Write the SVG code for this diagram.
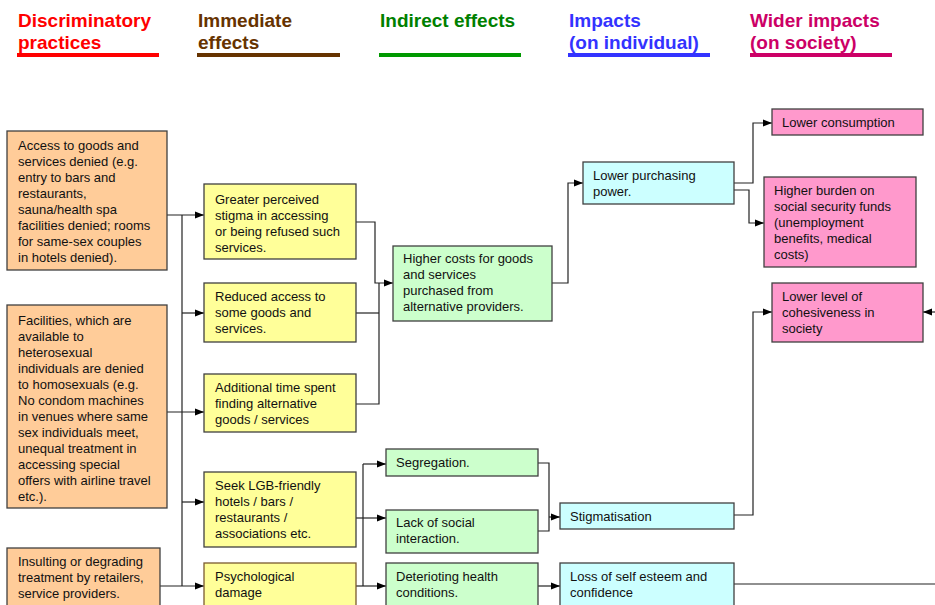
<svg xmlns="http://www.w3.org/2000/svg" width="935" height="605" viewBox="0 0 935 605">
<defs>
<marker id="ah" markerUnits="userSpaceOnUse" markerWidth="9" markerHeight="8" refX="9" refY="4" orient="auto">
<path d="M0,0.5 L9,4 L0,7.5 z" fill="#000"/>
</marker>
<style>
.hd{font-family:"Liberation Sans",Arial,sans-serif;font-weight:bold;font-size:19px}
.t{font-family:"Liberation Sans",Arial,sans-serif;font-size:13px;fill:#111}
.box{stroke:#404040;stroke-width:1.3}
.or{fill:#FFCC99}.ye{fill:#FFFF99}.gr{fill:#CCFFCC}.bl{fill:#CCFFFF}.pk{fill:#FF99CC}
.c{fill:none;stroke:#222;stroke-width:1.2}
.ca{fill:none;stroke:#222;stroke-width:1.2;marker-end:url(#ah)}
</style>
</defs>
<rect width="935" height="605" fill="#fff"/>
<g id="headers">
<text class="hd" fill="#FF0000" x="18" y="27">Discriminatory</text>
<text class="hd" fill="#FF0000" x="18" y="49">practices</text>
<rect x="17" y="53" width="142" height="4" fill="#FF0000"/>
<text class="hd" fill="#663300" x="198" y="27">Immediate</text>
<text class="hd" fill="#663300" x="198" y="49">effects</text>
<rect x="197" y="53" width="143" height="4" fill="#663300"/>
<text class="hd" fill="#008000" x="380" y="27">Indirect effects</text>
<rect x="379" y="53" width="142" height="4" fill="#009900"/>
<text class="hd" fill="#3333FF" x="569" y="27">Impacts</text>
<text class="hd" fill="#3333FF" x="569" y="49">(on individual)</text>
<rect x="568" y="53" width="142" height="4" fill="#3333FF"/>
<text class="hd" fill="#CC0066" x="750" y="27">Wider impacts</text>
<text class="hd" fill="#CC0066" x="750" y="49">(on society)</text>
<rect x="750" y="53" width="142" height="4" fill="#CC0066"/>
</g>
<g id="connectors">
<path class="c" d="M182,215 V586"/>
<path class="ca" d="M167,215 H204"/>
<path class="ca" d="M182,313 H204"/>
<path class="ca" d="M167,412 H204"/>
<path class="ca" d="M182,502 H204"/>
<path class="ca" d="M160,586 H204"/>
<path class="ca" d="M356,222 H375 V283 H393"/>
<path class="c" d="M356,313 H379"/>
<path class="c" d="M356,404 H379 V283"/>
<path class="ca" d="M552,283 H568 V183 H583"/>
<path class="ca" d="M734,183 H753 V123 H772"/>
<path class="ca" d="M734,190 H749 V223 H764"/>
<path class="c" d="M356,518 H363"/>
<path class="c" d="M363,464 V586"/>
<path class="ca" d="M363,464 H386"/>
<path class="ca" d="M363,518 H386"/>
<path class="ca" d="M356,586 H386"/>
<path class="c" d="M538,463 H549 V531 H538"/>
<path class="ca" d="M549,517 H560"/>
<path class="ca" d="M538,586 H560"/>
<path class="ca" d="M734,515 H753 V312 H772"/>
<path class="ca" d="M935,312 H923"/>
<path class="c" d="M734,584 H935"/>
</g>
<g id="n_access">
<rect class="box or" x="7" y="131" width="160" height="139"/>
<text class="t" x="18" y="150">Access to goods and</text>
<text class="t" x="18" y="166">services denied (e.g.</text>
<text class="t" x="18" y="182">entry to bars and</text>
<text class="t" x="18" y="198">restaurants,</text>
<text class="t" x="18" y="214">sauna/health spa</text>
<text class="t" x="18" y="230">facilities denied; rooms</text>
<text class="t" x="18" y="246">for same-sex couples</text>
<text class="t" x="18" y="262">in hotels denied).</text>
</g>
<g id="n_facilities">
<rect class="box or" x="7" y="305" width="160" height="203"/>
<text class="t" x="18" y="325">Facilities, which are</text>
<text class="t" x="18" y="341">available to</text>
<text class="t" x="18" y="357">heterosexual</text>
<text class="t" x="18" y="373">individuals are denied</text>
<text class="t" x="18" y="389">to homosexuals (e.g.</text>
<text class="t" x="18" y="405">No condom machines</text>
<text class="t" x="18" y="421">in venues where same</text>
<text class="t" x="18" y="437">sex individuals meet,</text>
<text class="t" x="18" y="453">unequal treatment in</text>
<text class="t" x="18" y="469">accessing special</text>
<text class="t" x="18" y="485">offers with airline travel</text>
<text class="t" x="18" y="501">etc.).</text>
</g>
<g id="n_insulting">
<rect class="box or" x="7" y="548" width="153" height="70"/>
<text class="t" x="18" y="566">Insulting or degrading</text>
<text class="t" x="18" y="582">treatment by retailers,</text>
<text class="t" x="18" y="598">service providers.</text>
</g>
<g id="n_stigma">
<rect class="box ye" x="204" y="184" width="152" height="75"/>
<text class="t" x="215" y="204">Greater perceived</text>
<text class="t" x="215" y="220">stigma in accessing</text>
<text class="t" x="215" y="236">or being refused such</text>
<text class="t" x="215" y="252">services.</text>
</g>
<g id="n_reduced">
<rect class="box ye" x="204" y="283" width="152" height="59"/>
<text class="t" x="215" y="301">Reduced access to</text>
<text class="t" x="215" y="317">some goods and</text>
<text class="t" x="215" y="333">services.</text>
</g>
<g id="n_time">
<rect class="box ye" x="204" y="374" width="152" height="58"/>
<text class="t" x="215" y="392">Additional time spent</text>
<text class="t" x="215" y="408">finding alternative</text>
<text class="t" x="215" y="424">goods / services</text>
</g>
<g id="n_seek">
<rect class="box ye" x="204" y="472" width="152" height="75"/>
<text class="t" x="215" y="490">Seek LGB-friendly</text>
<text class="t" x="215" y="506">hotels / bars /</text>
<text class="t" x="215" y="522">restaurants /</text>
<text class="t" x="215" y="538">associations etc.</text>
</g>
<g id="n_psych">
<rect class="box ye" x="204" y="563" width="152" height="55" style="stroke:#7a5a30"/>
<text class="t" x="215" y="581">Psychological</text>
<text class="t" x="215" y="597">damage</text>
</g>
<g id="n_costs">
<rect class="box gr" x="393" y="246" width="159" height="75"/>
<text class="t" x="403" y="263">Higher costs for goods</text>
<text class="t" x="403" y="279">and services</text>
<text class="t" x="403" y="295">purchased from</text>
<text class="t" x="403" y="311">alternative providers.</text>
</g>
<g id="n_segregation">
<rect class="box gr" x="386" y="449" width="152" height="27"/>
<text class="t" x="396" y="467">Segregation.</text>
</g>
<g id="n_lack">
<rect class="box gr" x="386" y="510" width="152" height="43"/>
<text class="t" x="396" y="527">Lack of social</text>
<text class="t" x="396" y="543">interaction.</text>
</g>
<g id="n_health">
<rect class="box gr" x="386" y="563" width="152" height="55"/>
<text class="t" x="396" y="581">Deterioting health</text>
<text class="t" x="396" y="597">conditions.</text>
</g>
<g id="n_purchasing">
<rect class="box bl" x="583" y="162" width="151" height="42"/>
<text class="t" x="593" y="180">Lower purchasing</text>
<text class="t" x="593" y="196">power.</text>
</g>
<g id="n_stigmatisation">
<rect class="box bl" x="560" y="503" width="174" height="26"/>
<text class="t" x="570" y="521">Stigmatisation</text>
</g>
<g id="n_esteem">
<rect class="box bl" x="560" y="563" width="174" height="55"/>
<text class="t" x="570" y="581">Loss of self esteem and</text>
<text class="t" x="570" y="597">confidence</text>
</g>
<g id="n_consumption">
<rect class="box pk" x="772" y="109" width="151" height="26"/>
<text class="t" x="782" y="127">Lower consumption</text>
</g>
<g id="n_burden">
<rect class="box pk" x="764" y="177" width="152" height="90"/>
<text class="t" x="774" y="195">Higher burden on</text>
<text class="t" x="774" y="211">social security funds</text>
<text class="t" x="774" y="227">(unemployment</text>
<text class="t" x="774" y="243">benefits, medical</text>
<text class="t" x="774" y="259">costs)</text>
</g>
<g id="n_cohesiveness">
<rect class="box pk" x="772" y="283" width="151" height="59"/>
<text class="t" x="782" y="301">Lower level of</text>
<text class="t" x="782" y="317">cohesiveness in</text>
<text class="t" x="782" y="333">society</text>
</g>
</svg>
